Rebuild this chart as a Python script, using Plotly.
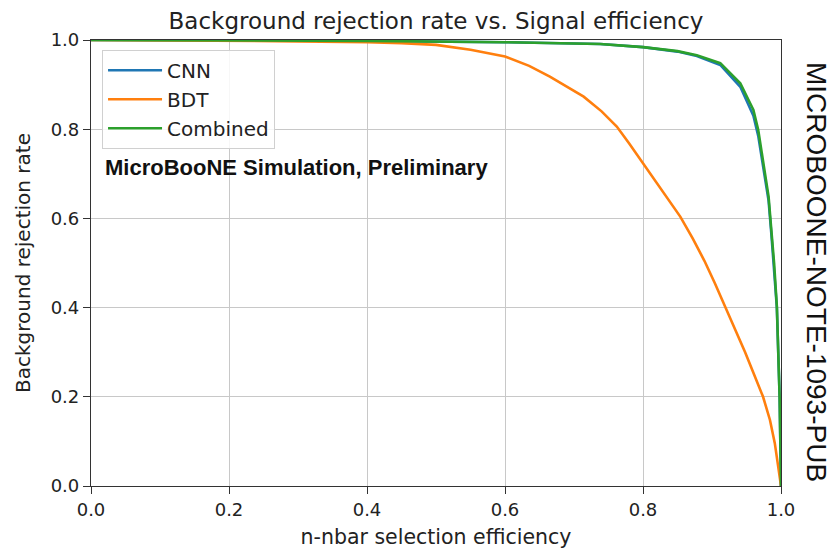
import plotly.graph_objects as go

# ---- data ----
eff_bdt = [0.0, 0.1, 0.2, 0.3, 0.4, 0.45, 0.5, 0.55, 0.6, 0.635, 0.665, 0.714, 0.74,
           0.762, 0.78, 0.80, 0.854, 0.872, 0.889, 0.904, 0.919, 0.934, 0.948, 0.961,
           0.974, 0.984, 0.991, 0.996, 0.9986, 1.0]
rej_bdt = [1.0, 0.9995, 0.999, 0.997, 0.995, 0.993, 0.989, 0.978, 0.963, 0.942, 0.918, 0.873, 0.84,
           0.806, 0.768, 0.724, 0.604, 0.555, 0.505, 0.455, 0.402, 0.350, 0.300, 0.250,
           0.200, 0.148, 0.096, 0.043, 0.007, 0.0]

eff_cnn = [0.0, 0.2, 0.4, 0.6, 0.7, 0.738, 0.80, 0.85, 0.878, 0.912, 0.941, 0.960,
           0.967, 0.974, 0.982, 0.986, 0.990, 0.994, 0.998, 1.0]
rej_cnn = [1.0, 0.9995, 0.998, 0.995, 0.993, 0.991, 0.984, 0.974, 0.964, 0.944, 0.895, 0.830,
           0.785, 0.715, 0.640, 0.566, 0.49, 0.40, 0.2, 0.0]

eff_comb = [0.0, 0.2, 0.4, 0.6, 0.7, 0.738, 0.80, 0.85, 0.878, 0.912, 0.941, 0.960,
            0.967, 0.974, 0.982, 0.986, 0.990, 0.994, 0.998, 1.0]
rej_comb = [1.0, 0.9995, 0.998, 0.995, 0.993, 0.991, 0.984, 0.975, 0.966, 0.948, 0.903, 0.843,
            0.798, 0.724, 0.649, 0.574, 0.50, 0.403, 0.2, 0.0]

series_names = ["CNN", "BDT", "Combined"]
series_colors = ["#1f77b4", "#ff7f0e", "#2ca02c"]

title_text = "Background rejection rate vs. Signal efficiency"
x_label = "n-nbar selection efficiency"
y_label = "Background rejection rate"
note_text = "MicroBooNE Simulation, Preliminary"
side_text = "MICROBOONE-NOTE-1093-PUB"

tick_vals = [0.0, 0.2, 0.4, 0.6, 0.8, 1.0]
tick_text = ["0.0", "0.2", "0.4", "0.6", "0.8", "1.0"]

FONT = "DejaVu Sans"

fig = go.Figure()
for name, color, xs, ys in zip(series_names, series_colors,
                               [eff_cnn, eff_bdt, eff_comb],
                               [rej_cnn, rej_bdt, rej_comb]):
    fig.add_trace(go.Scatter(x=xs, y=ys, mode="lines", name=name, legendgroup=name,
                             line=dict(color=color, width=2.6)))

axis_common = dict(
    range=[0, 1], tickvals=tick_vals, ticktext=tick_text, automargin=False,
    showline=True, linecolor="#333333", linewidth=1.2, mirror=True,
    ticks="outside", ticklen=7, tickcolor="#333333", tickwidth=1,
    showgrid=True, gridcolor="#c8c8c8", gridwidth=1, zeroline=False,
    tickfont=dict(family=FONT, size=18, color="#222222"),
)

# page body has an 8px default margin, so the figure is laid out in 832x541
fig.update_layout(
    width=832, height=541,
    margin=dict(l=83, r=59, t=32, b=63),
    paper_bgcolor="white", plot_bgcolor="white",
    title=dict(text=title_text, x=(436 - 8) / 832, xanchor="center",
               y=1 - (21 - 8) / 541, yanchor="middle",
               yref="container", font=dict(family=FONT, size=23, color="#222222")),
    xaxis=dict(**axis_common, title=dict(text=x_label, standoff=12,
               font=dict(family=FONT, size=20.5, color="#222222"))),
    yaxis=dict(**axis_common, title=dict(text=y_label, standoff=14,
               font=dict(family=FONT, size=20, color="#222222"))),
    legend=dict(x=0.016, y=0.978, xanchor="left", yanchor="top",
                bgcolor="rgba(255,255,255,0.85)", bordercolor="#d0d0d0", borderwidth=1,
                font=dict(family=FONT, size=20, color="#222222"),
                itemwidth=54, traceorder="grouped", tracegroupgap=0),
    showlegend=True,
    annotations=[
        dict(text="<b>" + note_text + "</b>", xref="paper", yref="paper",
             x=0.018, y=(486 - 167) / 446, xanchor="left", yanchor="middle",
             showarrow=False, font=dict(family="Liberation Sans", size=22, color="#111111")),
        dict(text=side_text, xref="paper", yref="paper",
             x=(817 - 91) / 690, y=(486 - 272) / 446, xanchor="center", yanchor="middle",
             textangle=90, showarrow=False,
             font=dict(family="Liberation Sans", size=28, color="#111111")),
    ],
)

fig.write_html("out.html")
